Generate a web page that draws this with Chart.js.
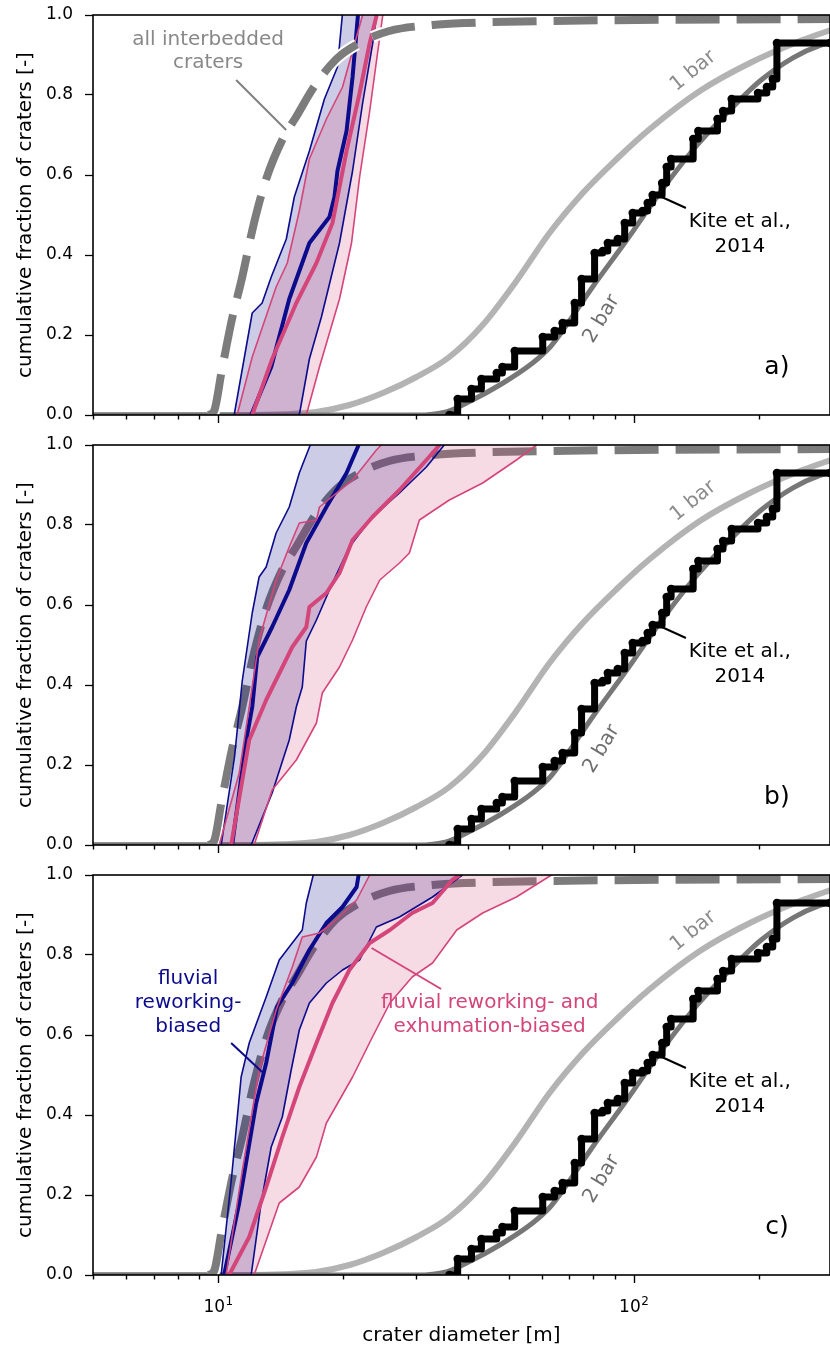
<!DOCTYPE html>
<html>
<head>
<meta charset="utf-8">
<script src="https://cdn.jsdelivr.net/npm/chart.js@4.4.1/dist/chart.umd.min.js"></script>
<style>
  body { margin: 0; background: #fff; width: 830px; height: 1349px; overflow: hidden; position: relative; }
  canvas { position: absolute; left: 0; }
</style>
</head>
<body>
<canvas id="panelA" width="830" height="430" style="top:0"></canvas>
<canvas id="panelB" width="830" height="430" style="top:430px"></canvas>
<canvas id="panelC" width="830" height="489" style="top:860px"></canvas>
<script>
// ---------------------------
// data (crater diameter [m] / cumulative fraction)
// ---------------------------
const X_MIN = 5;
const X_MAX = 296.6;
const X_MAJOR = [10, 100];
const X_MINOR = [5, 6, 7, 8, 9, 20, 30, 40, 50, 60, 70, 80, 90, 200];
const PANEL_LABELS = ['a)', 'b)', 'c)'];

// model size-frequency CDFs, same in all panels
const bar1D = [5, 11.9, 14.3, 17.2, 20.7, 24.9, 30.0, 36.0, 43.3, 52.2, 62.7, 75.4, 91.0, 109.3, 144.2, 190.3, 251.2, 296.6];
const bar1F = [0, 0, 0.002, 0.0075, 0.025, 0.055, 0.095, 0.145, 0.225, 0.335, 0.455, 0.555, 0.64, 0.715, 0.81, 0.88, 0.935, 0.962];
const bar2D = [5, 30.0, 35.4, 39.6, 47.6, 57.1, 62.7, 66.3, 79.6, 96.2, 115.5, 138.8, 167.6, 201.2, 241.6, 280.7, 296.6];
const bar2F = [0, 0, 0.008, 0.03, 0.075, 0.13, 0.168, 0.2, 0.32, 0.4375, 0.555, 0.6625, 0.755, 0.835, 0.893, 0.924, 0.93];

// Kite et al., 2014 observed craters (step CDF)
const kiteD = [36.0, 37.7, 40.7, 43.0, 46.8, 48.3, 51.7, 60.4, 64.5, 67.4, 72.1, 74.9, 80.5, 84.2, 86.6, 91.5, 95.1, 99.4, 105, 108, 111, 117, 120, 123, 139, 143, 159, 164, 172, 199, 209, 216, 221, 296.6];
const kiteF = [0.0, 0.04, 0.065, 0.09, 0.105, 0.12, 0.16, 0.195, 0.21, 0.23, 0.28, 0.34, 0.405, 0.41, 0.43, 0.44, 0.48, 0.505, 0.51, 0.53, 0.55, 0.58, 0.62, 0.64, 0.69, 0.71, 0.74, 0.76, 0.79, 0.805, 0.82, 0.84, 0.93, 0.93];

// all interbedded craters
const allD = [9.5, 9.78, 10.2, 10.8, 11.4, 12.2, 13.05, 14.3, 15.4, 17.0, 19.25, 21.9, 25.8, 32.8, 39.6, 62.6, 296.6];
const allF = [0, 0.01, 0.11, 0.24, 0.34, 0.48, 0.59, 0.69, 0.745, 0.82, 0.89, 0.93, 0.96, 0.975, 0.98, 0.985, 0.99];

// panel a
const aBlueHiD = [10.93, 12.08, 12.76, 13.42, 14.59, 15.25, 16.58, 18.02, 19.37, 19.9];
const aBlueHiF = [0, 0.255, 0.28, 0.345, 0.44, 0.545, 0.66, 0.79, 0.87, 1.0];
const aBlueMedD = [12.01, 13.42, 14.83, 16.58, 18.53, 19.05, 19.37, 20.37, 21.06, 21.7];
const aBlueMedF = [0, 0.12, 0.29, 0.43, 0.495, 0.545, 0.61, 0.71, 0.845, 1.0];
const aBlueLoD = [15.68, 16.58, 17.72, 19.59, 21.06, 22.27, 23.55, 24.08];
const aBlueLoF = [0, 0.14, 0.245, 0.43, 0.61, 0.78, 0.93, 1.0];
const aPinkHiD = [11.11, 12.08, 13.79, 14.67, 15.68, 16.58, 18.22, 19.92, 21.06, 22.27];
const aPinkHiF = [0, 0.145, 0.32, 0.38, 0.51, 0.64, 0.74, 0.82, 0.91, 1.0];
const aPinkMedD = [12.08, 13.49, 15.42, 17.24, 18.84, 20.37, 21.9, 23.16, 24.08];
const aPinkMedF = [0, 0.14, 0.28, 0.38, 0.48, 0.66, 0.805, 0.93, 1.0];
const aPinkLoD = [16.3, 17.53, 19.59, 20.94, 21.9, 23.16, 24.08, 24.9];
const aPinkLoF = [0, 0.12, 0.29, 0.43, 0.595, 0.76, 0.89, 1.0];

// panel b
const bBlueHiD = [10.17, 10.95, 11.43, 12.08, 12.55, 13.05, 13.79, 14.83, 15.68, 16.66];
const bBlueHiF = [0, 0.22, 0.41, 0.58, 0.67, 0.695, 0.78, 0.845, 0.93, 1.0];
const bBlueMedD = [10.81, 11.68, 12.08, 12.42, 13.49, 14.83, 16.30, 18.22, 20.37, 21.78];
const bBlueMedF = [0, 0.26, 0.345, 0.47, 0.545, 0.6375, 0.755, 0.845, 0.93, 1.0];
const bBlueLoD = [12.01, 13.49, 14.83, 15.42, 15.94, 16.30, 17.24, 18.84, 20.69, 23.51, 27.31, 31.7, 35.0];
const bBlueLoF = [0, 0.13, 0.2625, 0.345, 0.395, 0.51, 0.5625, 0.655, 0.745, 0.82, 0.88, 0.945, 1.0];
const bPinkHiD = [10.06, 11.24, 11.88, 12.55, 13.79, 14.83, 15.68, 17.24, 17.53, 21.06, 24.03, 24.7];
const bPinkHiF = [0, 0.18, 0.345, 0.5125, 0.6625, 0.745, 0.805, 0.8125, 0.845, 0.9125, 0.9875, 1.0];
const bPinkMedD = [10.75, 11.88, 13.05, 15.08, 16.30, 16.58, 18.22, 19.59, 21.06, 23.51, 27.31, 31.7, 34.1];
const bPinkMedF = [0, 0.2625, 0.3625, 0.495, 0.545, 0.595, 0.63, 0.68, 0.7625, 0.82, 0.8875, 0.9625, 1.0];
const bPinkLoD = [12.21, 13.49, 15.42, 17.24, 17.81, 19.59, 21.06, 22.72, 24.49, 27.31, 28.85, 30.5, 36.0, 43.3, 52.2, 58.4];
const bPinkLoF = [0, 0.1375, 0.2125, 0.305, 0.38, 0.445, 0.5125, 0.595, 0.6625, 0.705, 0.73, 0.8125, 0.8625, 0.905, 0.9625, 1.0];

// panel c
const cBlueHiD = [10.17, 10.81, 11.36, 11.88, 13.05, 14.03, 15.08, 15.94, 16.3, 16.94];
const cBlueHiF = [0, 0.26, 0.495, 0.58, 0.695, 0.7875, 0.83, 0.8625, 0.93, 1.0];
const cBlueMedD = [10.34, 11.24, 12.35, 13.05, 13.86, 15.08, 16.58, 18.22, 19.92, 21.54, 21.78];
const cBlueMedF = [0, 0.18, 0.43, 0.53, 0.67, 0.73, 0.8125, 0.88, 0.92, 0.97, 1.0];
const cBlueLoD = [12.01, 12.69, 13.42, 14.27, 14.99, 15.68, 16.58, 18.22, 19.92, 21.9, 24.03, 27.31, 32.8, 38.7];
const cBlueLoF = [0, 0.18, 0.32, 0.395, 0.5125, 0.6125, 0.68, 0.73, 0.7625, 0.7875, 0.87, 0.895, 0.945, 1.0];
const cPinkHiD = [10.45, 11.43, 12.55, 13.79, 15.08, 15.94, 17.53, 18.84, 21.54, 23.16];
const cPinkHiF = [0, 0.26, 0.5125, 0.6625, 0.77, 0.845, 0.855, 0.88, 0.9375, 1.0];
const cPinkMedD = [10.63, 11.88, 13.05, 14.27, 15.68, 17.24, 18.84, 20.69, 23.16, 25.9, 29.3, 32.8, 36.6, 38.1];
const cPinkMedF = [0, 0.095, 0.22, 0.345, 0.47, 0.58, 0.68, 0.7625, 0.83, 0.8625, 0.905, 0.93, 0.9875, 1.0];
const cPinkLoD = [12.21, 14.03, 15.68, 17.24, 18.22, 21.06, 23.51, 25.9, 29.3, 32.8, 37.5, 43.3, 52.2, 63.4];
const cPinkLoF = [0, 0.18, 0.22, 0.295, 0.38, 0.495, 0.595, 0.68, 0.745, 0.78, 0.8625, 0.905, 0.945, 1.0];

// ---------------------------
// styles
// ---------------------------
Chart.defaults.font.family = '"DejaVu Sans", sans-serif';
Chart.defaults.color = '#000';

const FONT = '"DejaVu Sans", sans-serif';
const BLUE = '#0b0b8c';
const PINK = '#d4457a';
const BLUE_FILL = 'rgba(0, 0, 128, 0.2)';
const PINK_FILL = 'rgba(212, 69, 122, 0.2)';
const NONE = 'rgba(0, 0, 0, 0)';

function pts(d, f) {
  return d.map((x, i) => ({ x: x, y: f[i] }));
}

// envelope extended to the axis limits, only used as fill boundary
function padded(d, f) {
  return [{ x: X_MIN, y: 0 }].concat(pts(d, f), [{ x: X_MAX, y: 1 }]);
}

function line(data, color, width, extra) {
  return Object.assign({
    data: data,
    borderColor: color,
    borderWidth: width,
    pointRadius: 0,
    fill: false,
    tension: 0,
    borderJoinStyle: 'round'
  }, extra || {});
}

function buildDatasets(p) {
  const smooth = { cubicInterpolationMode: 'monotone' };
  const dash = [
    line(pts(allD, allF), '#ffffff', 12, Object.assign({ borderDash: [44, 17], borderJoinStyle: 'miter' }, smooth)),
    line(pts(allD, allF), '#7c7c7c', 8, Object.assign({ borderDash: [44, 17], borderJoinStyle: 'miter' }, smooth))
  ];
  // listed bottom -> top
  const list = [
    line(pts(bar1D, bar1F), '#b3b3b3', 6, smooth),
    line(pts(bar2D, bar2F), '#777777', 5, smooth),
    line(pts(kiteD, kiteF), '#000000', 7, {
      stepped: true, pointRadius: 4.2, pointBackgroundColor: '#000', pointBorderWidth: 0
    })
  ];
  if (!p.dashOnTop) list.push(...dash);
  list.push(
    line(padded(p.blueHi[0], p.blueHi[1]), NONE, 0, { fill: '+1', backgroundColor: BLUE_FILL }),
    line(padded(p.blueLo[0], p.blueLo[1]), NONE, 0),
    line(padded(p.pinkHi[0], p.pinkHi[1]), NONE, 0, { fill: '+1', backgroundColor: PINK_FILL }),
    line(padded(p.pinkLo[0], p.pinkLo[1]), NONE, 0),
    line(pts(p.blueHi[0], p.blueHi[1]), BLUE, 1.6),
    line(pts(p.blueLo[0], p.blueLo[1]), BLUE, 1.6),
    line(pts(p.blueMed[0], p.blueMed[1]), BLUE, 4),
    line(pts(p.pinkHi[0], p.pinkHi[1]), PINK, 1.6),
    line(pts(p.pinkLo[0], p.pinkLo[1]), PINK, 1.6),
    line(pts(p.pinkMed[0], p.pinkMed[1]), PINK, 4)
  );
  if (p.dashOnTop) list.push(...dash);
  list.forEach((ds, i) => { ds.order = list.length - i; });
  return list;
}

// annotations in data coordinates
const commonNotes = [
  { text: '1 bar', x: 139, y: 0.86, color: '#8c8c8c', rot: -39 },
  { text: '2 bar', x: 83.7, y: 0.24, color: '#6e6e6e', rot: -59 },
  { text: 'Kite et al.,', x: 180, y: 0.4825, color: '#000' },
  { text: '2014', x: 180, y: 0.42, color: '#000' },
  { from: [116.8, 0.545], to: [133.5, 0.5175], color: '#000' }
];

const panelNotes = [
  [
    { text: 'all interbedded', x: 9.46, y: 0.9375, color: '#888888' },
    { text: 'craters', x: 9.46, y: 0.88, color: '#888888' },
    { from: [11.05, 0.8375], to: [14.58, 0.7125], color: '#808080' }
  ],
  [],
  [
    { text: 'fluvial', x: 8.47, y: 0.74, color: BLUE },
    { text: 'reworking-', x: 8.47, y: 0.68, color: BLUE },
    { text: 'biased', x: 8.47, y: 0.62, color: BLUE },
    { from: [10.75, 0.58], to: [12.76, 0.5075], color: BLUE },
    { text: 'fluvial reworking- and', x: 45.0, y: 0.68, color: PINK },
    { text: 'exhumation-biased', x: 45.0, y: 0.62, color: PINK },
    { from: [34.4, 0.715], to: [23.4, 0.8175], color: PINK }
  ]
];

// frame, log ticks and text drawn on top
const decorations = {
  id: 'decorations',
  afterDraw(chart, args, opts) {
    const ctx = chart.ctx;
    const xs = chart.scales.x;
    const ys = chart.scales.y;
    const area = chart.chartArea;
    ctx.save();

    // notes
    opts.notes.forEach(n => {
      if (n.from) {
        ctx.strokeStyle = n.color;
        ctx.lineWidth = 2;
        ctx.beginPath();
        ctx.moveTo(xs.getPixelForValue(n.from[0]), ys.getPixelForValue(n.from[1]));
        ctx.lineTo(xs.getPixelForValue(n.to[0]), ys.getPixelForValue(n.to[1]));
        ctx.stroke();
        return;
      }
      ctx.save();
      ctx.translate(xs.getPixelForValue(n.x), ys.getPixelForValue(n.y));
      if (n.rot) ctx.rotate(n.rot * Math.PI / 180);
      ctx.fillStyle = n.color;
      ctx.font = '20px ' + FONT;
      ctx.textAlign = 'center';
      ctx.textBaseline = 'middle';
      ctx.fillText(n.text, 0, 0);
      ctx.restore();
    });

    // panel letter
    ctx.fillStyle = '#000';
    ctx.font = '25px ' + FONT;
    ctx.textAlign = 'center';
    ctx.textBaseline = 'middle';
    ctx.fillText(opts.letter, xs.getPixelForValue(221), ys.getPixelForValue(0.12));

    // frame
    ctx.strokeStyle = '#000';
    ctx.lineWidth = 1.6;
    ctx.strokeRect(area.left, area.top, area.right - area.left, area.bottom - area.top);

    // x ticks
    ctx.lineWidth = 1.4;
    X_MINOR.concat(X_MAJOR).forEach(v => {
      const px = Math.round(xs.getPixelForValue(v)) + 0.5;
      const len = X_MAJOR.includes(v) ? 8 : 4.5;
      ctx.beginPath();
      ctx.moveTo(px, area.bottom);
      ctx.lineTo(px, area.bottom + len);
      ctx.stroke();
    });

    if (opts.showX) {
      ctx.fillStyle = '#000';
      X_MAJOR.forEach(v => {
        const exp = String(Math.round(Math.log10(v)));
        ctx.font = '17px ' + FONT;
        const w1 = ctx.measureText('10').width;
        ctx.font = '12px ' + FONT;
        const w2 = ctx.measureText(exp).width;
        const x0 = xs.getPixelForValue(v) - (w1 + w2) / 2;
        const base = area.bottom + 37;
        ctx.textAlign = 'left';
        ctx.textBaseline = 'alphabetic';
        ctx.font = '17px ' + FONT;
        ctx.fillText('10', x0, base);
        ctx.font = '12px ' + FONT;
        ctx.fillText(exp, x0 + w1 + 0.5, base - 7);
      });
      ctx.font = '20px ' + FONT;
      ctx.textAlign = 'center';
      ctx.textBaseline = 'middle';
      ctx.fillText('crater diameter [m]', (area.left + area.right) / 2, area.bottom + 61);
    }
    ctx.restore();
  }
};

// keep the plot box exactly where the layout padding puts it
function noOverhang(s) {
  s.paddingTop = 0;
  s.paddingBottom = 0;
  s.paddingLeft = 0;
  s.paddingRight = 0;
}

function makeChart(id, idx, p) {
  return new Chart(document.getElementById(id), {
    type: 'line',
    data: { datasets: buildDatasets(p) },
    options: {
      responsive: false,
      animation: false,
      events: [],
      layout: { autoPadding: false, padding: { top: 15, right: 0, left: 0, bottom: p.showX ? 74 : 15 } },
      plugins: {
        legend: { display: false },
        tooltip: { enabled: false },
        decorations: {
          letter: PANEL_LABELS[idx],
          showX: p.showX,
          notes: commonNotes.concat(panelNotes[idx])
        }
      },
      scales: {
        x: {
          type: 'logarithmic',
          min: X_MIN,
          max: X_MAX,
          display: false,
          afterFit: noOverhang
        },
        y: {
          min: 0,
          max: 1,
          afterFit: s => { s.width = 93; noOverhang(s); },
          border: { display: false },
          grid: { drawOnChartArea: false, drawTicks: true, tickLength: 8, tickWidth: 1.3, tickColor: '#000' },
          ticks: {
            stepSize: 0.2,
            padding: 12,
            color: '#000',
            font: { size: 17 },
            callback: v => Number(v).toFixed(1)
          },
          title: {
            display: true,
            text: 'cumulative fraction of craters [-]',
            color: '#000',
            font: { size: 20 },
            padding: { top: 14, bottom: 0 }
          }
        }
      }
    },
    plugins: [decorations]
  });
}

makeChart('panelA', 0, {
  dashOnTop: true, showX: false,
  blueHi: [aBlueHiD, aBlueHiF], blueMed: [aBlueMedD, aBlueMedF], blueLo: [aBlueLoD, aBlueLoF],
  pinkHi: [aPinkHiD, aPinkHiF], pinkMed: [aPinkMedD, aPinkMedF], pinkLo: [aPinkLoD, aPinkLoF]
});
makeChart('panelB', 1, {
  dashOnTop: false, showX: false,
  blueHi: [bBlueHiD, bBlueHiF], blueMed: [bBlueMedD, bBlueMedF], blueLo: [bBlueLoD, bBlueLoF],
  pinkHi: [bPinkHiD, bPinkHiF], pinkMed: [bPinkMedD, bPinkMedF], pinkLo: [bPinkLoD, bPinkLoF]
});
makeChart('panelC', 2, {
  dashOnTop: false, showX: true,
  blueHi: [cBlueHiD, cBlueHiF], blueMed: [cBlueMedD, cBlueMedF], blueLo: [cBlueLoD, cBlueLoF],
  pinkHi: [cPinkHiD, cPinkHiF], pinkMed: [cPinkMedD, cPinkMedF], pinkLo: [cPinkLoD, cPinkLoF]
});
</script>
</body>
</html>
